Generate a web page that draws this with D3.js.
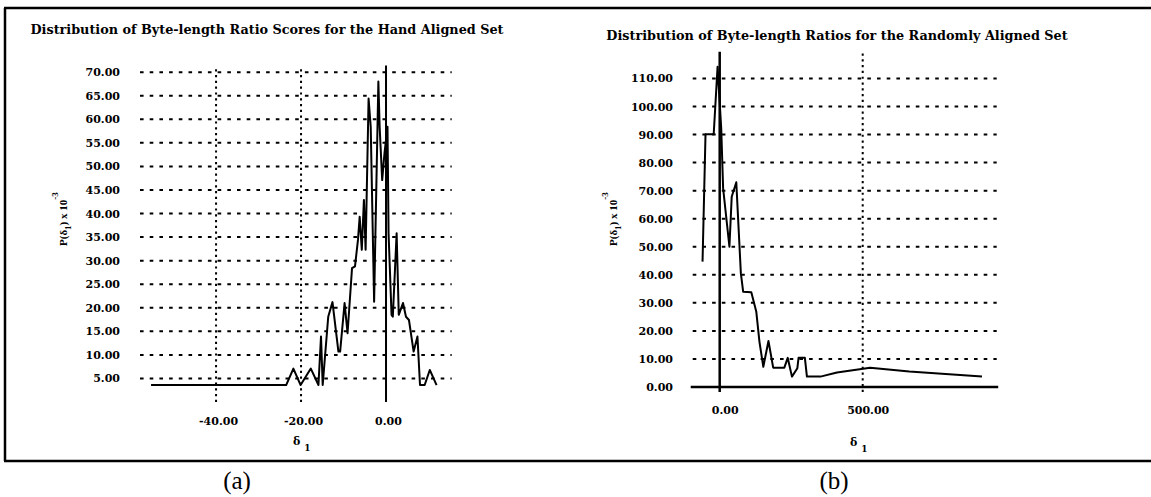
<!DOCTYPE html>
<html>
<head>
<meta charset="utf-8">
<script src="https://cdnjs.cloudflare.com/ajax/libs/d3/7.8.5/d3.min.js"></script>
<style>
body { margin: 0; background: #fff; }
svg { display: block; }
.tick text { font-family: "DejaVu Serif", serif; font-weight: bold; font-size: 11px; fill: #000; }
</style>
</head>
<body>
<svg></svg>
<script>
//hand aligned set (a)
var handDelta = [-55.3, -23.5, -21.8, -20.1, -17.7, -15.9, -15.3, -14.9, -13.6, -12.6, -11.2, -10.8,
                 -9.75, -9.05, -8.0, -7.3, -6.6, -6.2, -5.7, -5.2, -4.8, -4.1, -3.6, -2.8, -1.8, -1.5,
                 -0.9, -0.36, 0.35, 0.6, 1.3, 1.6, 2.5, 3.0, 4.0, 4.7, 5.4, 6.5, 7.4, 8.0, 9.1, 10.3, 11.9];
var handProb = [3.6, 3.6, 7.1, 3.6, 7.1, 3.6, 13.9, 3.6, 18.1, 21.2, 10.7, 10.7,
                21.0, 14.6, 28.4, 28.8, 34.4, 39.3, 32.3, 42.9, 32.3, 64.4, 58.4, 21.3, 68.0, 58.4,
                47.1, 52.8, 58.4, 35.8, 18.5, 18.1, 35.8, 18.5, 21.0, 18.1, 17.4, 10.7, 13.9, 3.6, 3.6, 6.8, 3.6];
var handYTicks = [5, 10, 15, 20, 25, 30, 35, 40, 45, 50, 55, 60, 65, 70];
var handXTicks = [-40, -20, 0];
var handTitle = "Distribution of Byte-length Ratio Scores for the Hand Aligned Set";

//randomly aligned set (b)
var randDelta = [-60, -49.6, -21, -7.4, 5.3, 12, 34, 42, 58, 74, 82, 110.5, 128, 139, 152.5, 170.5,
                 187, 226, 237.8, 252.6, 271.5, 275.7, 297.8, 305, 352.4, 410, 526, 663, 917];
var randProb = [44.7, 90.1, 90.1, 114.2, 92.2, 70.8, 50, 67.8, 73, 40.5, 34, 33.8, 26.8, 16.1, 7.2, 16.4,
                6.9, 6.9, 10.4, 3.7, 6.7, 10.4, 10.4, 3.7, 3.7, 5.2, 6.9, 5.5, 3.7];
var randYTicks = [0, 10, 20, 30, 40, 50, 60, 70, 80, 90, 100, 110];
var randXTicks = [0, 500];
var randTitle = "Distribution of Byte-length Ratios for the Randomly Aligned Set";

var fmt = function(d) { return d.toFixed(2); };

var svg = d3.select("svg")
    .attr("width", 1151)
    .attr("height", 497);

//outer frame (scanned box)
svg.append("path")
    .attr("d", "M5,8 L5,461 M4,8 L1151,8 M4,461 L1151,461")
    .attr("stroke", "#000")
    .attr("stroke-width", 2.5)
    .attr("fill", "none");

var hGrid = function(g, ticks, xScale, yScale)
{
    g.selectAll("line.hgrid")
        .data(ticks)
        .enter()
        .append("line")
        .attr("x1", xScale.range()[0])
        .attr("x2", xScale.range()[1])
        .attr("y1", function(d) { return yScale(d); })
        .attr("y2", function(d) { return yScale(d); })
        .attr("stroke", "#000")
        .attr("stroke-width", 2)
        .attr("stroke-dasharray", "3.6,6.1");
};

var vGrid = function(g, ticks, xScale, y1, y2)
{
    g.selectAll("line.vgrid")
        .data(ticks)
        .enter()
        .append("line")
        .attr("x1", function(d) { return xScale(d); })
        .attr("x2", function(d) { return xScale(d); })
        .attr("y1", y1)
        .attr("y2", y2)
        .attr("stroke", "#000")
        .attr("stroke-width", 2)
        .attr("stroke-dasharray", "2.2,3.6");
};

var yLabel = function(g, x, y)
{
    var t = g.append("text")
        .attr("transform", "translate(" + x + "," + y + ") rotate(-90)")
        .attr("font-family", "Liberation Serif, serif")
        .attr("font-weight", "bold")
        .attr("font-size", 11);
    t.append("tspan").text("P(\u03b4");
    t.append("tspan").attr("dy", 4).attr("font-size", 9).text("1");
    t.append("tspan").attr("dy", -4).text(") x 10");
    t.append("tspan").attr("dy", -9).attr("font-size", 9).text("-3");
};

var xLabel = function(g, x, y)
{
    var t = g.append("text")
        .attr("x", x)
        .attr("y", y)
        .attr("font-family", "DejaVu Serif, serif")
        .attr("font-weight", "bold")
        .attr("font-size", 11);
    t.append("tspan").text("\u03b4");
    t.append("tspan").attr("dx", 4).attr("dy", 6).attr("font-size", 9).text("1");
};

var dataLine = function(g, xs, ys, xScale, yScale)
{
    var line = d3.line()
        .x(function(d, i) { return xScale(xs[i]); })
        .y(function(d, i) { return yScale(ys[i]); });
    g.append("path")
        .attr("d", line(xs))
        .attr("fill", "none")
        .attr("stroke", "#000")
        .attr("stroke-width", 2)
        .attr("stroke-linejoin", "round");
};

var makeHandPlot = function()
{
    var g = svg.append("g");
    var xScale = d3.scaleLinear().domain([-57.9, 15.46]).range([140, 451.7]);
    var yScale = d3.scaleLinear().domain([0, 71.4]).range([402, 65.6]);

    g.append("text")
        .attr("x", 267).attr("y", 34)
        .attr("text-anchor", "middle")
        .attr("font-family", "DejaVu Serif, serif")
        .attr("font-weight", "bold")
        .attr("font-size", 12.8)
        .text(handTitle);

    hGrid(g, handYTicks, xScale, yScale);
    vGrid(g, handXTicks.filter(function(d) { return d != 0; }), xScale, yScale(0), yScale(71.4));

    //y axis line at 0
    g.append("line")
        .attr("x1", xScale(0)).attr("x2", xScale(0))
        .attr("y1", yScale(0)).attr("y2", yScale(71.4))
        .attr("stroke", "#000").attr("stroke-width", 2);

    dataLine(g, handDelta, handProb, xScale, yScale);

    var ya = g.append("g")
        .attr("transform", "translate(120,0)")
        .call(d3.axisLeft(yScale).tickValues(handYTicks).tickFormat(fmt).tickSize(0).tickPadding(0));
    ya.select(".domain").remove();

    var xa = g.append("g")
        .attr("transform", "translate(2,417)")
        .call(d3.axisBottom(xScale).tickValues(handXTicks).tickFormat(fmt).tickSize(0).tickPadding(0));
    xa.select(".domain").remove();

    yLabel(g, 67, 246);
    xLabel(g, 293, 445);

    g.append("text")
        .attr("x", 237).attr("y", 489)
        .attr("text-anchor", "middle")
        .attr("font-family", "Liberation Serif, serif")
        .attr("font-size", 25)
        .text("(a)");
};

var makeRandomPlot = function()
{
    var g = svg.append("g");
    var xScale = d3.scaleLinear().domain([-94.4, 968.5]).range([692.7, 996.7]);
    var yScale = d3.scaleLinear().domain([0, 120]).range([387, 50.4]);

    g.append("text")
        .attr("x", 837).attr("y", 40)
        .attr("text-anchor", "middle")
        .attr("font-family", "DejaVu Serif, serif")
        .attr("font-weight", "bold")
        .attr("font-size", 12.8)
        .text(randTitle);

    hGrid(g, randYTicks.filter(function(d) { return d != 0; }), xScale, yScale);
    vGrid(g, randXTicks.filter(function(d) { return d != 0; }), xScale, yScale(-1.8), yScale(119.5));

    //axis lines
    g.append("line")
        .attr("x1", xScale(0)).attr("x2", xScale(0))
        .attr("y1", yScale(-1.8)).attr("y2", yScale(119.5))
        .attr("stroke", "#000").attr("stroke-width", 2.5);
    g.append("line")
        .attr("x1", xScale.range()[0] - 2).attr("x2", xScale.range()[1] + 1.5)
        .attr("y1", yScale(0)).attr("y2", yScale(0))
        .attr("stroke", "#000").attr("stroke-width", 2.5);

    dataLine(g, randDelta, randProb, xScale, yScale);

    var ya = g.append("g")
        .attr("transform", "translate(673,0)")
        .call(d3.axisLeft(yScale).tickValues(randYTicks).tickFormat(fmt).tickSize(0).tickPadding(0));
    ya.select(".domain").remove();

    var xa = g.append("g")
        .attr("transform", "translate(5,406)")
        .call(d3.axisBottom(xScale).tickValues(randXTicks).tickFormat(fmt).tickSize(0).tickPadding(0));
    xa.select(".domain").remove();

    yLabel(g, 617, 246);
    xLabel(g, 850, 446);

    g.append("text")
        .attr("x", 834).attr("y", 489)
        .attr("text-anchor", "middle")
        .attr("font-family", "Liberation Serif, serif")
        .attr("font-size", 25)
        .text("(b)");
};

makeHandPlot();
makeRandomPlot();
</script>
</body>
</html>
